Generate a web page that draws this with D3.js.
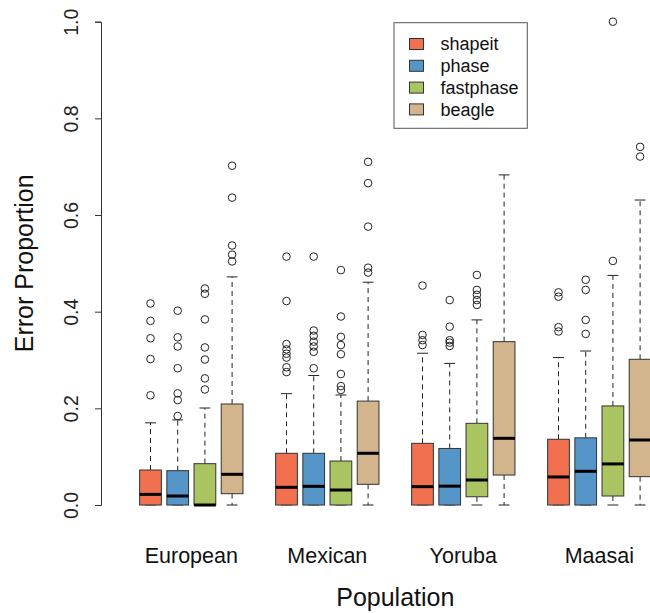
<!DOCTYPE html>
<html>
<head>
<meta charset="utf-8">
<script src="https://cdn.jsdelivr.net/npm/d3@7"></script>
<style>
  body { margin: 0; background: #fff; }
  svg { font-family: "Liberation Sans", Arial, Helvetica, sans-serif; }
</style>
</head>
<body>
<div id="chart"></div>
<script>
// values, indexed [population][method]
const populations = ["European", "Mexican", "Yoruba", "Maasai"];
const methods = ["shapeit", "phase", "fastphase", "beagle"];
const yTicks = [0, 0.2, 0.4, 0.6, 0.8, 1.0];

const whiskerLow = [
  [0, 0, 0, 0],
  [0, 0, 0, 0],
  [0, 0, 0, 0],
  [0, 0, 0, 0]
];
const q1 = [
  [0, 0, 0, 0.0234],
  [0, 0, 0, 0.0428],
  [0, 0, 0.017, 0.062],
  [0, 0, 0.0186, 0.0586]
];
const medians = [
  [0.022, 0.0186, 0, 0.0635],
  [0.0366, 0.0386, 0.031, 0.107],
  [0.038, 0.039, 0.0517, 0.138],
  [0.058, 0.0697, 0.085, 0.1345]
];
const q3 = [
  [0.0724, 0.071, 0.0855, 0.209],
  [0.107, 0.107, 0.091, 0.215],
  [0.1276, 0.117, 0.169, 0.338],
  [0.136, 0.139, 0.205, 0.3015]
];
const whiskerHigh = [
  [0.170, 0.176, 0.2007, 0.472],
  [0.2304, 0.268, 0.2276, 0.461],
  [0.314, 0.293, 0.383, 0.683],
  [0.305, 0.3186, 0.475, 0.631]
];
const outliers = [
  [
    [0.417, 0.381, 0.345, 0.302, 0.227],
    [0.402, 0.347, 0.328, 0.283, 0.231, 0.217, 0.184],
    [0.448, 0.437, 0.384, 0.326, 0.301, 0.262, 0.239],
    [0.702, 0.636, 0.537, 0.518, 0.504]
  ],
  [
    [0.514, 0.422, 0.333, 0.322, 0.313, 0.305, 0.285, 0.275],
    [0.514, 0.361, 0.35, 0.338, 0.328, 0.317, 0.283],
    [0.486, 0.39, 0.348, 0.331, 0.312, 0.271, 0.246, 0.238],
    [0.71, 0.666, 0.576, 0.491, 0.481]
  ],
  [
    [0.454, 0.352, 0.341, 0.331],
    [0.424, 0.369, 0.341, 0.336, 0.329],
    [0.476, 0.445, 0.435, 0.424, 0.414],
    []
  ],
  [
    [0.44, 0.431, 0.368, 0.359],
    [0.466, 0.445, 0.383, 0.354],
    [1.0, 0.505],
    [0.741, 0.721]
  ]
];

const fills = ["#F0704F", "#5595C8", "#A9C461", "#D2B48D"];

const width = 650, height = 613;

const svg = d3.select("#chart").append("svg")
  .attr("width", width)
  .attr("height", height);

// boxes sit at positions 1..4, 6..9, 11..14, 16..19 (one empty slot between groups)
const x = d3.scaleLinear().domain([1, 19]).range([150.5, 640.1]);
const y = d3.scaleLinear().domain([0, 1]).range([505, 21.7]);
const unit = x(2) - x(1);
const boxW = unit * 0.8;
const capW = boxW / 2;

const boxes = [];
populations.forEach((p, g) => {
  methods.forEach((m, k) => {
    boxes.push({
      pos: 1 + g * 5 + k, g, k,
      lo: whiskerLow[g][k], q1: q1[g][k], med: medians[g][k],
      q3: q3[g][k], hi: whiskerHigh[g][k], out: outliers[g][k]
    });
  });
});

const bx = svg.append("g").selectAll("g")
  .data(boxes)
  .enter().append("g");

// whiskers
bx.append("line")
  .attr("x1", d => x(d.pos)).attr("x2", d => x(d.pos))
  .attr("y1", d => y(d.q3)).attr("y2", d => y(d.hi))
  .attr("stroke", "#222").attr("stroke-dasharray", "5,4");
bx.append("line")
  .attr("x1", d => x(d.pos)).attr("x2", d => x(d.pos))
  .attr("y1", d => y(d.q1)).attr("y2", d => y(d.lo))
  .attr("stroke", "#222").attr("stroke-dasharray", "5,4");
bx.append("line")
  .attr("x1", d => x(d.pos) - capW / 2).attr("x2", d => x(d.pos) + capW / 2)
  .attr("y1", d => y(d.hi)).attr("y2", d => y(d.hi))
  .attr("stroke", "#222");
bx.append("line")
  .attr("x1", d => x(d.pos) - capW / 2).attr("x2", d => x(d.pos) + capW / 2)
  .attr("y1", d => y(d.lo)).attr("y2", d => y(d.lo))
  .attr("stroke", "#222");

// boxes
bx.append("rect")
  .attr("x", d => x(d.pos) - boxW / 2)
  .attr("width", boxW)
  .attr("y", d => y(d.q3))
  .attr("height", d => y(d.q1) - y(d.q3))
  .attr("fill", d => fills[d.k])
  .attr("stroke", "#333")
  .attr("stroke-width", 1);

// medians
bx.append("line")
  .attr("x1", d => x(d.pos) - boxW / 2).attr("x2", d => x(d.pos) + boxW / 2)
  .attr("y1", d => y(d.med)).attr("y2", d => y(d.med))
  .attr("stroke", "#000").attr("stroke-width", 3);

// outliers
bx.selectAll("circle")
  .data(d => d.out.map(v => ({pos: d.pos, v})))
  .enter().append("circle")
  .attr("cx", d => x(d.pos))
  .attr("cy", d => y(d.v))
  .attr("r", 3.8)
  .attr("fill", "none")
  .attr("stroke", "#222")
  .attr("stroke-width", 1);

// y axis
const yAxis = svg.append("g")
  .attr("transform", "translate(101,0)")
  .call(d3.axisLeft(y).tickValues(yTicks).tickFormat(d3.format(".1f")).tickSize(6).tickPadding(0));
yAxis.select(".domain").attr("stroke", "#333");
yAxis.selectAll(".tick line").attr("stroke", "#333");
yAxis.selectAll(".tick text")
  .attr("font-size", 19.5)
  .attr("font-family", "Liberation Sans, Arial, sans-serif")
  .attr("fill", "#222")
  .attr("text-anchor", "middle")
  .attr("transform", "translate(-23,0) rotate(-90)")
  .attr("x", 0)
  .attr("dy", 0);

// population labels
svg.append("g").selectAll("text")
  .data(populations)
  .enter().append("text")
  .attr("x", (d, g) => x(1 + g * 5 + 1.5))
  .attr("y", 563)
  .attr("text-anchor", "middle")
  .attr("font-size", 21.5)
  .attr("fill", "#111")
  .text(d => d);

// axis titles
svg.append("text")
  .attr("x", x(10))
  .attr("y", 606)
  .attr("text-anchor", "middle")
  .attr("font-size", 25)
  .attr("fill", "#111")
  .text("Population");

svg.append("text")
  .attr("transform", `translate(33,${y(0.5)}) rotate(-90)`)
  .attr("text-anchor", "middle")
  .attr("font-size", 25)
  .attr("fill", "#111")
  .text("Error Proportion");

// legend
const legend = svg.append("g");
legend.append("rect")
  .attr("x", 394).attr("y", 22.7)
  .attr("width", 133.3).attr("height", 105.6)
  .attr("fill", "#fff").attr("stroke", "#555");
const li = legend.selectAll("g.item")
  .data(methods)
  .enter().append("g")
  .attr("class", "item")
  .attr("transform", (d, i) => `translate(0,${44 + i * 21.8})`);
li.append("rect")
  .attr("x", 409.5).attr("y", -5.5)
  .attr("width", 14).attr("height", 11)
  .attr("fill", (d, i) => fills[i])
  .attr("stroke", "#333");
li.append("text")
  .attr("x", 440.5).attr("y", 6.3)
  .attr("font-size", 18)
  .attr("fill", "#111")
  .text(d => d);
</script>
</body>
</html>
